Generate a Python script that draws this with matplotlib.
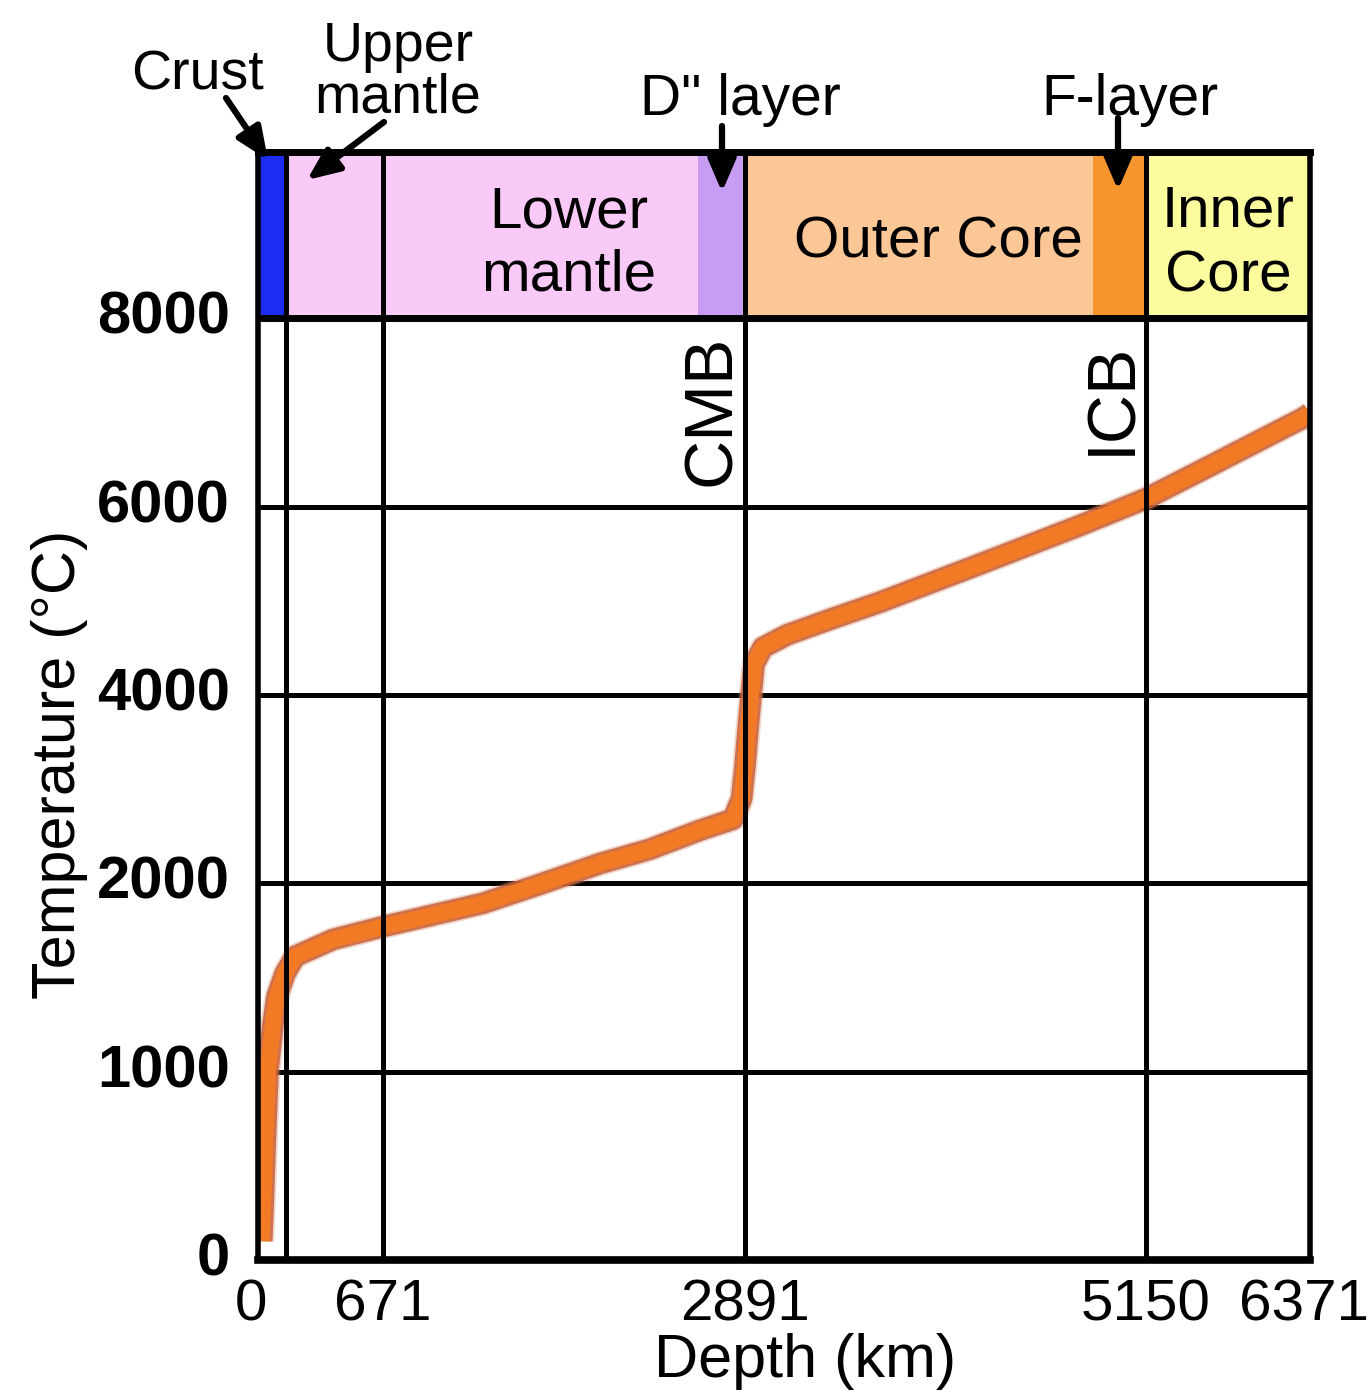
import numpy as np
import matplotlib
matplotlib.use("Agg")
import matplotlib.pyplot as plt
from matplotlib import font_manager
from matplotlib.transforms import ScaledTranslation

# ---------------- data ----------------
depth_ticks = [0, 671, 2891, 5150, 6371]
depth_tick_labels = ["0", "671", "2891", "5150", "6371"]
temp_ticks = [0, 1000, 2000, 4000, 6000, 8000]
temp_tick_labels = ["0", "1000", "2000", "4000", "6000", "8000"]
grid_temps = [1000, 2000, 4000, 6000]
boundary_depths = [150, 671, 2891, 5150]

# geotherm (depth km, temperature C)
depth_km = [20, 30, 38, 54, 80, 102, 145, 199, 403, 671, 1284, 1634, 2002,
            2308, 2615, 2817, 2870, 2891, 2908, 2925, 2942, 2992, 3128, 3387,
            3651, 4215, 4778, 5150, 5649, 6320, 6371]
temp_c = [100, 350, 595, 1010, 1250, 1400, 1521, 1612, 1702, 1770, 1894,
          1995, 2210, 2362, 2564, 2680, 2900, 3250, 3638, 3989, 4330, 4505,
          4639, 4814, 4985, 5390, 5800, 6085, 6449, 6941, 6990]

# layers in the top band (start depth, end depth, colour)
layer_starts = [0, 150, 2600, 2891, 4850, 5150]
layer_ends = [150, 2600, 2891, 4850, 5150, 6371]
layer_colors = ["#1c2cf0", "#f9c9f8", "#c79cf3", "#fbc796", "#f7952f", "#fcfc9e"]
band_bottom = 8000

# ---------------- scales (piecewise, as in the original figure) ----------------
X_KNOTS = np.array([0, 671, 2891, 5150, 6371], float)
X_POS = np.array([0, 125, 487, 888, 1052], float)
Y_KNOTS = np.array([0, 1000, 2000, 4000, 6000, 8000, 10000], float)
Y_POS = np.arange(len(Y_KNOTS), dtype=float)


def x_fwd(v):
    return np.interp(v, X_KNOTS, X_POS)


def x_inv(p):
    return np.interp(p, X_POS, X_KNOTS)


def y_fwd(v):
    return np.interp(v, Y_KNOTS, Y_POS)


def y_inv(p):
    return np.interp(p, Y_POS, Y_KNOTS)


# ---------------- fonts ----------------
names = {f.name for f in font_manager.fontManager.ttflist}
REG = "Liberation Sans"
if "Liberation Sans Narrow" in names:
    NARROW = "Liberation Sans Narrow"
    ytick_size, ylab_size = 50, 52
else:
    NARROW = "Liberation Sans"
    ytick_size, ylab_size = 43, 44
plt.rcParams["font.family"] = [REG, "DejaVu Sans"]

W, H = 1370, 1397
fig = plt.figure(figsize=(W / 100, H / 100), dpi=100)
fig.patch.set_facecolor("white")
ax = fig.add_axes([258 / W, 1 - 1260 / H, (1310 - 258) / W, (1260 - 152) / H])
ax.set_xscale("function", functions=(x_fwd, x_inv))
ax.set_yscale("function", functions=(y_fwd, y_inv))
YTOP = 9766
ax.set_xlim(0, 6371)
ax.set_ylim(0, YTOP)

# top band with layers
for s, e, c in zip(layer_starts, layer_ends, layer_colors):
    ax.fill_between([s, e], band_bottom, YTOP, color=c, lw=0, zorder=1)

# horizontal grid lines
for t in grid_temps:
    ax.axhline(t, color="black", lw=3.6, zorder=2)
ax.axhline(band_bottom, color="black", lw=5, zorder=5)

# geotherm (fuzzy thick orange line)
ax.plot(depth_km, temp_c, color="#d48a66", lw=18, alpha=0.35,
        solid_capstyle="butt", solid_joinstyle="round", zorder=3)
ax.plot(depth_km, temp_c, color="#c8603a", lw=15.5, alpha=0.85,
        solid_capstyle="butt", solid_joinstyle="round", zorder=3.05)
ax.plot(depth_km, temp_c, color="#f37a24", lw=11.5,
        solid_capstyle="butt", solid_joinstyle="round", zorder=3.1)

# vertical boundary lines
for d in boundary_depths:
    ax.axvline(d, color="black", lw=3.6, zorder=4)

# spines
for side, lw in [("left", 4), ("right", 4), ("top", 5), ("bottom", 5.5)]:
    ax.spines[side].set_linewidth(lw)
    ax.spines[side].set_color("black")
    ax.spines[side].set_zorder(6)

# ticks
ax.set_xticks(depth_ticks)
ax.set_xticklabels(depth_tick_labels)
ax.set_yticks(temp_ticks)
ax.set_yticklabels(temp_tick_labels)
ax.xaxis.set_minor_locator(matplotlib.ticker.NullLocator())
ax.yaxis.set_minor_locator(matplotlib.ticker.NullLocator())
ax.tick_params(axis="x", length=0, pad=13, labelsize=42)
ax.tick_params(axis="y", length=0, pad=20, labelsize=ytick_size)
for lbl in ax.get_yticklabels():
    lbl.set_fontfamily(NARROW)
    lbl.set_fontweight("bold")
    lbl.set_transform(lbl.get_transform() + ScaledTranslation(0, 0.06, fig.dpi_scale_trans))
for lbl in ax.get_xticklabels():
    txt = lbl.get_text()
    if txt == "0":
        lbl.set_transform(lbl.get_transform() + ScaledTranslation(-0.07, 0, fig.dpi_scale_trans))
    elif txt == "6371":
        lbl.set_transform(lbl.get_transform() + ScaledTranslation(-0.06, 0, fig.dpi_scale_trans))

ax.set_xlabel("Depth (km)", fontsize=44)
ax.xaxis.set_label_coords(0.52, -0.066)
ax.set_ylabel("Temperature (°C)", fontsize=ylab_size, fontfamily=NARROW)
ax.yaxis.set_label_coords(-0.162, 0.447)


def fp(x, y):
    """figure pixel coords from top-left pixel position"""
    return (x, H - y)


# band labels
ax.text(0.295, 0.917, "Lower\nmantle", transform=ax.transAxes, ha="center",
        va="center", fontsize=42, linespacing=1.2, zorder=7)
ax.text(0.647, 0.918, "Outer Core", transform=ax.transAxes, ha="center",
        va="center", fontsize=42, zorder=7)
ax.text(0.922, 0.917, "Inner\nCore", transform=ax.transAxes, ha="center",
        va="center", fontsize=42, linespacing=1.25, zorder=7)

# boundary labels
fig.text(712 / W, 1 - 410 / H, "CMB", rotation=90, ha="center", va="center", fontsize=49)
fig.text(1112 / W, 1 - 398 / H, "ICB", rotation=90, ha="center", va="center", fontsize=49)

# top labels
fig.text(197 / W, 1 - 75 / H, "Crust", ha="center", va="center", fontsize=40)
fig.text(398 / W, 1 - 73 / H, "Upper\nmantle", ha="center", va="center", fontsize=40,
         linespacing=0.98)
fig.text(740 / W, 1 - 100 / H, 'D" layer', ha="center", va="center", fontsize=41)
fig.text(1130 / W, 1 - 100 / H, "F-layer", ha="center", va="center", fontsize=41)

arrow_kw = dict(arrowstyle="-|>,head_length=0.65,head_width=0.28", lw=4.5,
                color="black", shrinkA=0, shrinkB=0, mutation_scale=30)
for (x0, y0), (x1, y1) in [((226, 98), (268, 160)),
                           ((384, 122), (307, 180)),
                           ((722, 126), (722, 192)),
                           ((1118, 118), (1118, 190))]:
    fig.add_artist(matplotlib.patches.FancyArrowPatch(
        posA=fp(x0, y0), posB=fp(x1, y1), transform=None, **arrow_kw))

fig.savefig("out.png", dpi=100, facecolor="white")
